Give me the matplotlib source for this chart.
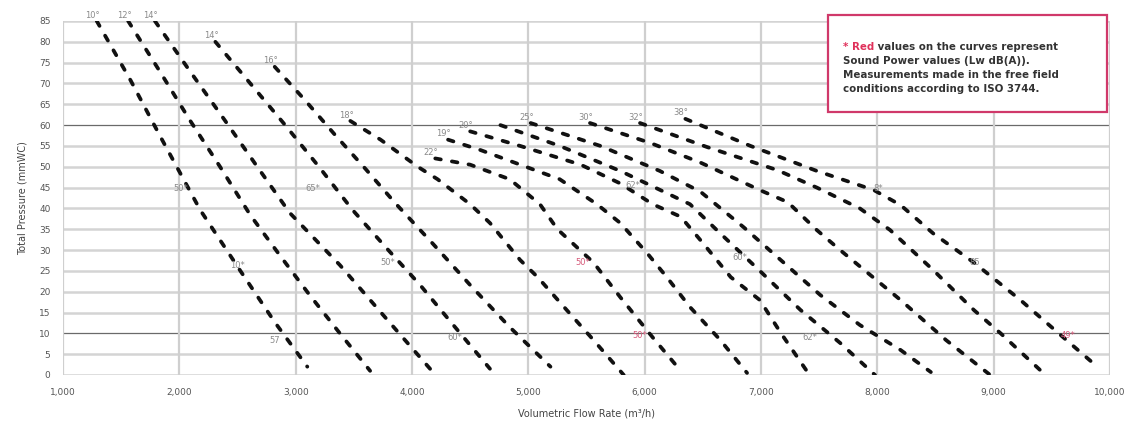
import matplotlib
matplotlib.use("Agg")
import matplotlib.pyplot as plt
from matplotlib.patches import Rectangle

# ---------------- data ----------------
x_ticks = [1000, 2000, 3000, 4000, 5000, 6000, 7000, 8000, 9000, 10000]
x_tick_labels = ["1,000", "2,000", "3,000", "4,000", "5,000", "6,000",
                 "7,000", "8,000", "9,000", "10,000"]
y_ticks = list(range(0, 90, 5))

flow_c1 = [1290, 1580, 1830, 2180, 2520, 2820, 3100]
pres_c1 = [85, 70.8, 57.6, 39.6, 25.2, 12.7, 2]
flow_c2 = [1560, 1830, 2090, 2350, 2610, 2870, 3120, 3380, 3640]
pres_c2 = [85, 73, 61.2, 50, 38.4, 28.5, 19.2, 10, 1]
flow_c3 = [1790, 2090, 2390, 2670, 2950, 3170, 3380, 3780, 4180]
pres_c3 = [85, 73, 61.2, 50, 38.9, 32.5, 26.4, 13.5, 0.7]
flow_c4 = [2310, 2610, 2910, 3200, 3490, 3780, 4070, 4370, 4670]
pres_c4 = [80, 70, 60, 50, 39.6, 30.5, 21.6, 11.5, 1.5]
flow_c5 = [2820, 3080, 3340, 3600, 3855, 4180, 4500, 4840, 5190]
pres_c5 = [74, 66, 57.6, 49.5, 41.3, 31.5, 21.6, 11.5, 2]
flow_c6 = [3470, 3730, 4050, 4220, 4500, 4670, 4930, 5080, 5330, 5560, 5820]
pres_c6 = [61, 56.5, 50, 47, 41, 36.5, 27.6, 23.5, 15.6, 8.4, 0]
flow_c7 = [4200, 4500, 4840, 5100, 5250, 5560, 5790, 6070, 6310]
pres_c7 = [52, 50.5, 47, 41, 35, 27, 18.7, 9, 1]
flow_c8 = [4310, 4590, 4930, 5270, 5590, 5790, 6020, 6190, 6390, 6650, 6880]
pres_c8 = [56.5, 54, 50.5, 47, 41, 36.5, 29.3, 23.5, 16.3, 8.4, 0.5]
flow_c9 = [4500, 4930, 5450, 5790, 6070, 6310, 6500, 6740, 6990, 7170, 7400]
pres_c9 = [58.5, 55, 50.5, 46, 41, 38, 31.7, 23.5, 18, 10.1, 0.7]
flow_c10 = [4760, 5270, 5790, 6390, 6650, 6990, 7340, 7680, 7980]
pres_c10 = [60, 55, 49, 41, 34, 25, 15.6, 7.7, 0]
flow_c11 = [5020, 5620, 6130, 6480, 6850, 7170, 7510, 7850, 8200, 8460]
pres_c11 = [60.5, 55, 49, 44, 35.5, 27.6, 19.2, 12, 6, 0.7]
flow_c12 = [5530, 6050, 6480, 6990, 7230, 7480, 7680, 8200, 8590, 8970]
pres_c12 = [60.5, 55.7, 51, 44.4, 41.5, 34.8, 30, 18, 8.4, 0]
flow_c13 = [5960, 6540, 7140, 7480, 7850, 8110, 8480, 8830, 9060, 9445]
pres_c13 = [60.5, 54.7, 49.2, 45, 40, 34.8, 25.2, 15.6, 10, 0]
flow_c14 = [6350, 6910, 7480, 7970, 8200, 8480, 8830, 9230, 9600, 9890]
pres_c14 = [61.5, 55, 49, 44.4, 40.8, 34, 27, 18, 9, 2]

curve_flows = [flow_c1, flow_c2, flow_c3, flow_c4, flow_c5, flow_c6, flow_c7,
               flow_c8, flow_c9, flow_c10, flow_c11, flow_c12, flow_c13, flow_c14]
curve_pressures = [pres_c1, pres_c2, pres_c3, pres_c4, pres_c5, pres_c6, pres_c7,
                   pres_c8, pres_c9, pres_c10, pres_c11, pres_c12, pres_c13, pres_c14]
curve_top_labels = ["10°", "12°", "14°", "14°", "16°", "18°", "22°",
                    "19°", "20°", "", "25°", "30°", "32°", "38°"]

mid_label_flow = [2010, 3150, 2500, 2820, 3795, 4370, 5470, 5960, 6820, 7420,
                  8010, 8840, 9640, 5900]
mid_label_pres = [44.9, 44.9, 26.4, 8.4, 27.1, 8.9, 27.1, 9.6, 28.1, 8.9,
                  44.9, 27.1, 9.6, 45.6]
mid_label_text = ["50*", "65*", "10*", "57", "50*", "60*", "50*", "50*", "60*",
                  "62*", "8*", "85", "49*", "62*"]
mid_label_red = [False, False, False, False, False, False, True, True, False,
                 False, False, False, True, False]

note_red = "* Red"
note_lines = [" values on the curves represent",
              "Sound Power values (Lw dB(A)).",
              "Measurements made in the free field",
              "conditions according to ISO 3744."]

# ---------------- figure ----------------
W, H = 1140, 429
fig = plt.figure(figsize=(W / 100, H / 100), dpi=100)
fig.patch.set_facecolor("white")
ax = fig.add_axes([63 / W, 1 - 375 / H, (1110 - 63) / W, (375 - 21) / H])

ax.set_xlim(1000, 10000)
ax.set_ylim(0, 85)
ax.set_xticks(x_ticks)
ax.set_xticklabels(x_tick_labels)
ax.set_yticks(y_ticks)

# grid
for v in y_ticks:
    if v in (10, 60):
        ax.axhline(v, color="#6a6a6a", lw=0.9, zorder=1)
    else:
        ax.axhline(v, color="#d4d4d4", lw=1.8, zorder=1)
for v in x_ticks:
    ax.axvline(v, color="#cfcfcf", lw=1.6, zorder=1)

for s in ax.spines.values():
    s.set_visible(False)
ax.tick_params(axis="both", length=0, labelsize=6.5, labelcolor="#555555")
ax.tick_params(axis="x", pad=9)
ax.tick_params(axis="y", pad=9)

# curves
for fl, pr in zip(curve_flows, curve_pressures):
    ax.plot(fl, pr, color="#111111", lw=2.7, ls=(0, (1.5, 3.0)),
            dash_capstyle="round", zorder=3)

for fl, pr, lab in zip(curve_flows, curve_pressures, curve_top_labels):
    if lab:
        ax.annotate(lab, (fl[0], pr[0]), xytext=(-3, 1), textcoords="offset points",
                    ha="center", va="bottom", fontsize=6, color="#8a8a8a", zorder=4,
                    annotation_clip=False)

for fx, py, t, red in zip(mid_label_flow, mid_label_pres, mid_label_text, mid_label_red):
    ax.text(fx, py, t, ha="center", va="center", fontsize=6,
            color="#d65a7a" if red else "#8a8a8a", zorder=4)

ax.set_xlabel("Volumetric Flow Rate (m³/h)", fontsize=7, color="#444444", labelpad=9)
ax.set_ylabel("Total Pressure (mmWC)", fontsize=7, color="#444444", labelpad=8)

# note box
box = Rectangle((828 / W, 1 - 112 / H), (1107 - 828) / W, (112 - 15) / H,
                transform=fig.transFigure, facecolor="white",
                edgecolor="#d0396a", lw=1.6, zorder=5)
fig.add_artist(box)
x0, y0, dy = 843 / W, 47, 14
fs = 7.4
red_txt = fig.text(x0, 1 - y0 / H, note_red, color="#e0305a", fontsize=fs,
                   fontweight="bold", va="center", ha="left", zorder=6)
fig.canvas.draw()
bb = red_txt.get_window_extent(renderer=fig.canvas.get_renderer())
fig.text(bb.x1 / W, 1 - y0 / H, note_lines[0], color="#333333", fontsize=fs,
         fontweight="bold", va="center", ha="left", zorder=6)
for i, line in enumerate(note_lines[1:], start=1):
    fig.text(x0, 1 - (y0 + dy * i) / H, line, color="#333333", fontsize=fs,
             fontweight="bold", va="center", ha="left", zorder=6)

fig.savefig("out.png", dpi=100, facecolor="white")
